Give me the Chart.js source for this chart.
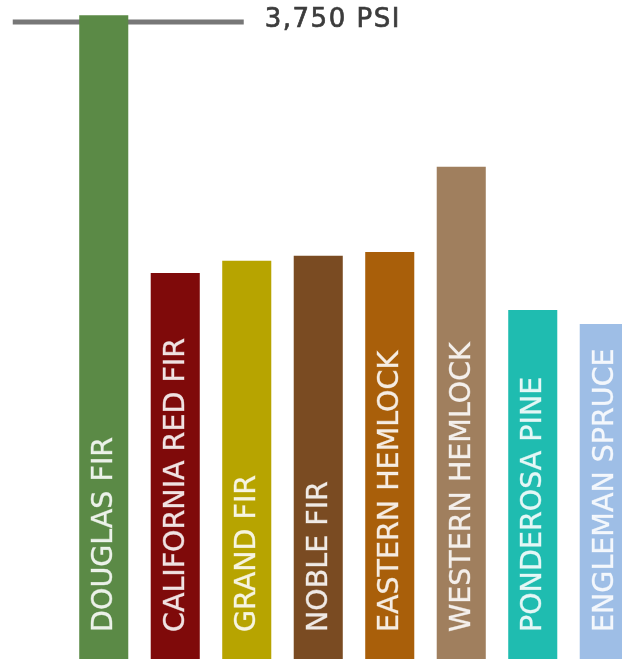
<!DOCTYPE html>
<html>
<head>
<meta charset="utf-8">
<script src="https://cdn.jsdelivr.net/npm/chart.js@4/dist/chart.umd.min.js"></script>
<style>
  html, body { margin: 0; padding: 0; background: #fff; overflow: hidden; }
  #wrap { width: 640px; height: 662px; }
</style>
</head>
<body>
<div id="wrap"><canvas id="chart" width="640" height="662"></canvas></div>
<script>
// species (bar labels), bending strength in PSI, bar colours
const species = ['DOUGLAS FIR', 'CALIFORNIA RED FIR', 'GRAND FIR', 'NOBLE FIR',
  'EASTERN HEMLOCK', 'WESTERN HEMLOCK', 'PONDEROSA PINE', 'ENGLEMAN SPRUCE'];
const strengthPsi = [3790, 2272, 2345, 2374, 2396, 2898, 2055, 1972];
const barColors = ['#5b8a46', '#7f0a0a', '#b7a400', '#7a4b22',
  '#a95f0a', '#a07f5e', '#1fbcb0', '#9ebee6'];
// reference line
const refValue = 3750;
const refLabel = '3,750 PSI';

// horizontal reference line, drawn under the bars
const refLinePlugin = {
  id: 'refLine',
  beforeDatasetsDraw(chart) {
    const { ctx, scales: { x, y } } = chart;
    const yPx = Math.round(y.getPixelForValue(refValue));
    const first = x.getPixelForValue(0);
    ctx.save();
    ctx.strokeStyle = '#777';
    ctx.lineWidth = 5;
    ctx.beginPath();
    ctx.moveTo(first - 91, yPx);
    ctx.lineTo(first + 140, yPx);
    ctx.stroke();
    ctx.fillStyle = '#3c3c3c';
    ctx.strokeStyle = '#3c3c3c';
    ctx.lineWidth = 0.7;
    ctx.font = '26px "DejaVu Sans"';
    ctx.letterSpacing = '1.5px';
    ctx.textBaseline = 'middle';
    ctx.fillText(refLabel, first + 161, yPx - 2);
    ctx.strokeText(refLabel, first + 161, yPx - 2);
    ctx.restore();
  }
};

// species names written bottom-to-top inside each bar
const barLabelPlugin = {
  id: 'barLabels',
  afterDatasetsDraw(chart) {
    const { ctx } = chart;
    const meta = chart.getDatasetMeta(0);
    ctx.save();
    ctx.fillStyle = 'rgba(255,255,255,0.88)';
    ctx.strokeStyle = 'rgba(255,255,255,0.5)';
    ctx.lineWidth = 0.6;
    ctx.font = '28.5px "DejaVu Sans"';
    ctx.textBaseline = 'middle';
    ctx.textAlign = 'left';
    meta.data.forEach((bar, i) => {
      ctx.save();
      ctx.translate(bar.x, bar.base - 27);
      ctx.rotate(-Math.PI / 2);
      ctx.fillText(species[i], 0, 1);
      ctx.strokeText(species[i], 0, 1);
      ctx.restore();
    });
    ctx.restore();
  }
};

new Chart(document.getElementById('chart'), {
  type: 'bar',
  data: {
    labels: species,
    datasets: [{
      data: strengthPsi,
      backgroundColor: barColors,
      borderWidth: 0,
      barPercentage: 0.686,
      categoryPercentage: 1
    }]
  },
  options: {
    responsive: false,
    animation: false,
    layout: { padding: { top: 3, bottom: 3, left: 68, right: 0 } },
    plugins: { legend: { display: false }, tooltip: { enabled: false } },
    scales: {
      x: { display: false },
      y: { display: false, min: 0, max: 3862 }
    }
  },
  plugins: [refLinePlugin, barLabelPlugin]
});
</script>
</body>
</html>
